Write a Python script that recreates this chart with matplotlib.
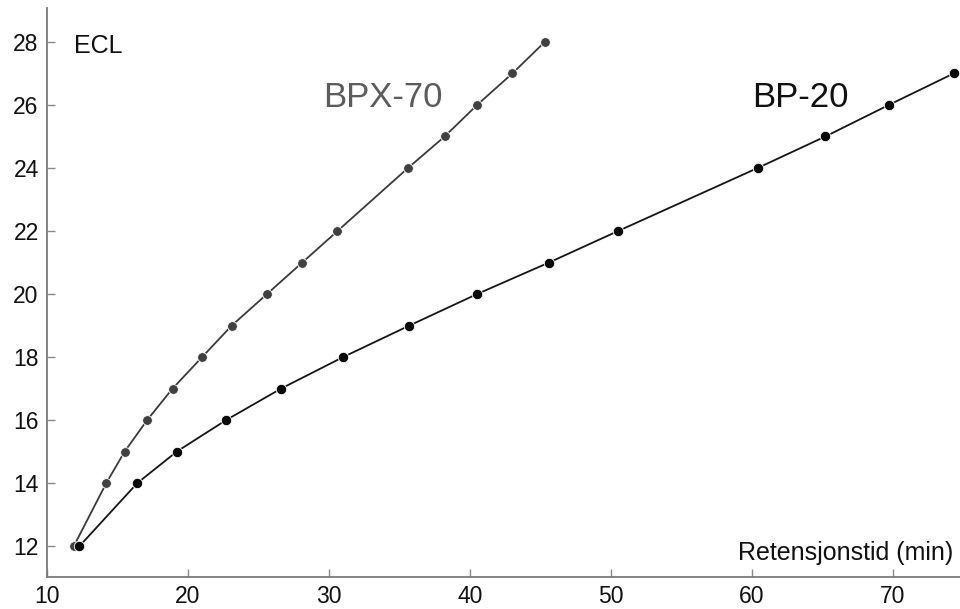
import matplotlib
matplotlib.use('Agg')
import matplotlib.pyplot as plt

plt.rcParams['font.family'] = ['Liberation Sans', 'DejaVu Sans']

# ECL values and retention times (min)
ecl_bpx = [12, 14, 15, 16, 17, 18, 19, 20, 21, 22, 24, 25, 26, 27, 28]
rt_bpx = [11.9, 14.2, 15.5, 17.1, 18.9, 21.0, 23.1, 25.6, 28.1, 30.6,
          35.6, 38.2, 40.5, 43.0, 45.3]

ecl_bp20 = [12, 14, 15, 16, 17, 18, 19, 20, 21, 22, 24, 25, 26, 27]
rt_bp20 = [12.3, 16.4, 19.2, 22.7, 26.6, 31.0, 35.7, 40.5, 45.6, 50.5,
           60.4, 65.2, 69.7, 74.3]

x_ticks = [10, 20, 30, 40, 50, 60, 70]
y_ticks = [12, 14, 16, 18, 20, 22, 24, 26, 28]

fig = plt.figure(figsize=(9.6, 6.09), dpi=100)
ax = fig.add_axes([0.049, 0.0525, 0.951, 0.9345])

ax.plot(rt_bpx, ecl_bpx, color='#3a3a3a', lw=1.3, marker='o', ms=7,
        mfc='#404040', mec='white', mew=0.6, clip_on=False)
ax.plot(rt_bp20, ecl_bp20, color='#151515', lw=1.3, marker='o', ms=7.5,
        mfc='#0a0a0a', mec='white', mew=0.6, clip_on=False)

ax.set_xlim(10, 74.75)
ax.set_ylim(11.02, 29.08)
ax.set_xticks(x_ticks)
ax.set_yticks(y_ticks)

for side in ['top', 'right']:
    ax.spines[side].set_visible(False)
for side in ['left', 'bottom']:
    ax.spines[side].set_color('#7a7a7a')
    ax.spines[side].set_linewidth(1.3)

ax.tick_params(direction='in', length=6, width=1, color='#8a8a8a',
               labelsize=16.5, labelcolor='#111111', pad=6)

ax.text(11.9, 27.88, 'ECL', fontsize=18, color='#111111', va='center', ha='left')
ax.text(74.3, 11.78, 'Retensjonstid (min)', fontsize=18, color='#111111',
        va='center', ha='right')
ax.text(33.8, 26.25, 'BPX-70', fontsize=25, color='#5c5c5c', va='center', ha='center')
ax.text(63.4, 26.25, 'BP-20', fontsize=25, color='#111111', va='center', ha='center')

fig.savefig('out.png', dpi=100)
